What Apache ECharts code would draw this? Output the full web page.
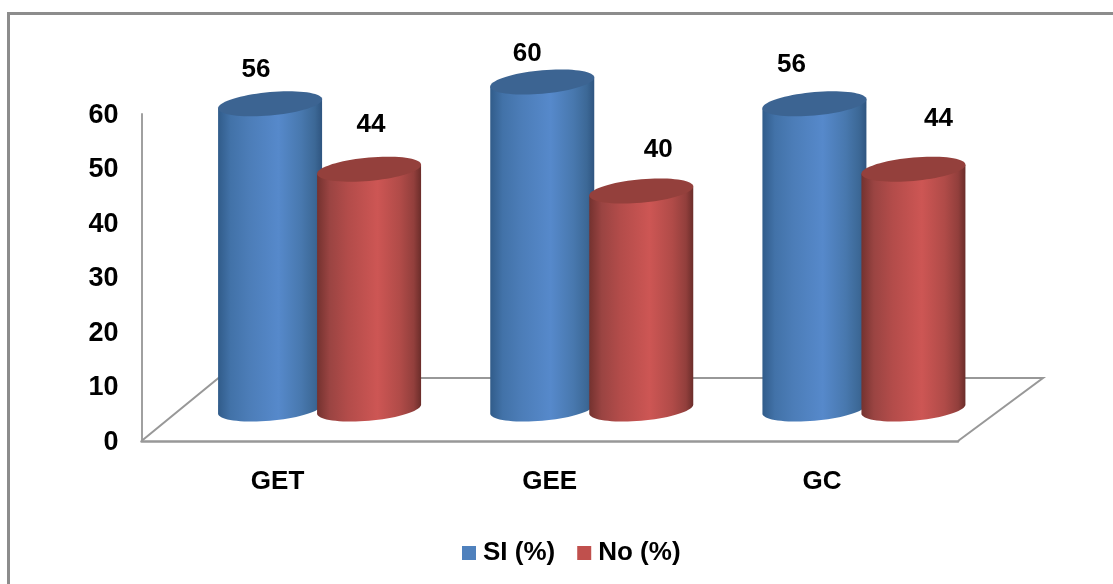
<!DOCTYPE html>
<html>
<head>
<meta charset="utf-8">
<style>html,body{margin:0;padding:0;background:#fff}#chart{width:1113px;height:584px}</style>
<script src="https://cdn.jsdelivr.net/npm/echarts@6/dist/echarts.min.js"></script>
</head>
<body>
<div id="chart"></div>
<script>
const categories = ['GET', 'GEE', 'GC'];
const siValues = [56, 60, 56];
const noValues = [44, 40, 44];
const yTicks = [0, 10, 20, 30, 40, 50, 60];

// Hand-placed value labels: offset from the centre of each cylinder's top.
const siLabelNudge = [[-14, -34], [-15, -28], [-23, -39]];
const noLabelNudge = [[2, -44], [17, -41], [25, -50]];

// Oblique projection of the floor and the cylinders standing on it.
const FLOOR_BACK = { dx: 77, dy: 63, rightDx: 85 };
const BASE_LIFT = 32;
const RX = 52, RY = 11.7, TILT = 4.5;
const BAR_SHIFT = { si: -7.5, no: 91.5 };
const FONT = '"Liberation Sans", Arial, sans-serif';

function shade(stops) {
  return {
    type: 'linear', x: 0, y: 0, x2: 1, y2: 0,
    colorStops: stops.map(s => ({ offset: s[0], color: s[1] }))
  };
}
const blueBody = shade([[0, '#315c8a'], [0.12, '#4272a8'], [0.3, '#4c7db8'], [0.58, '#5689cb'], [0.8, '#4878ae'], [0.93, '#3c6896'], [1, '#2f5580']]);
const redBody = shade([[0, '#74322f'], [0.12, '#9a4442'], [0.3, '#b34c4a'], [0.58, '#cd5654'], [0.8, '#b04b48'], [0.93, '#923f3c'], [1, '#6b2d2a']]);

function ellipsePoint(cx, cy, t) {
  return [cx + RX * Math.cos(t), cy - TILT * Math.cos(t) + RY * Math.sin(t)];
}

function cylinderRenderer(shift, bodyFill, capFill, nudges) {
  return function (params, api) {
    const idx = api.value(0);
    const val = api.value(1);
    const base = api.coord([idx, 0]);
    const top = api.coord([idx, val]);
    const cx = base[0] + shift;
    const baseY = base[1] - BASE_LIFT;
    const topY = top[1] - BASE_LIFT;

    const body = [];
    const cap = [];
    for (let i = 0; i <= 72; i++) {
      const a = Math.PI * 2 * i / 72;
      cap.push(ellipsePoint(cx, topY, a));
    }
    body.push(ellipsePoint(cx, topY, Math.PI));
    for (let i = 0; i <= 36; i++) {
      body.push(ellipsePoint(cx, baseY, Math.PI - Math.PI * i / 36));
    }
    body.push(ellipsePoint(cx, topY, 0));

    return {
      type: 'group',
      children: [
        { type: 'polygon', shape: { points: body }, style: { fill: bodyFill } },
        { type: 'polygon', shape: { points: cap }, style: { fill: capFill } },
        {
          type: 'text',
          style: {
            text: String(val),
            x: cx + nudges[idx][0],
            y: topY + nudges[idx][1],
            align: 'center',
            verticalAlign: 'middle',
            fill: '#000',
            font: 'bold 26px ' + FONT
          }
        }
      ]
    };
  };
}

function floorRenderer(params) {
  const c = params.coordSys;
  const bottom = c.y + c.height;
  return {
    type: 'polyline',
    shape: {
      points: [
        [c.x, bottom],
        [c.x + FLOOR_BACK.dx, bottom - FLOOR_BACK.dy],
        [c.x + c.width + FLOOR_BACK.rightDx, bottom - FLOOR_BACK.dy],
        [c.x + c.width, bottom]
      ]
    },
    style: { fill: 'none', stroke: '#989898', lineWidth: 2 }
  };
}

const chart = echarts.init(document.getElementById('chart'), null, { renderer: 'canvas' });
chart.setOption({
  animation: false,
  backgroundColor: '#fff',
  grid: { left: 141.5, top: 114, width: 816.5, height: 327, containLabel: false },
  graphic: [
    {
      type: 'polyline',
      shape: { points: [[8.5, 584], [8.5, 13.5], [1113, 13.5]] },
      style: { fill: 'none', stroke: '#8c8c8c', lineWidth: 3 },
      silent: true
    }
  ],
  xAxis: {
    type: 'category',
    data: categories,
    axisTick: { show: false },
    axisLine: { lineStyle: { color: '#989898', width: 2.5 } },
    axisLabel: { color: '#000', fontFamily: FONT, fontWeight: 'bold', fontSize: 26, margin: 28 }
  },
  yAxis: {
    type: 'value',
    min: yTicks[0],
    max: yTicks[yTicks.length - 1],
    interval: 10,
    splitLine: { show: false },
    axisTick: { show: false },
    axisLine: { show: true, lineStyle: { color: '#a0a0a0', width: 2 } },
    axisLabel: { color: '#000', fontFamily: FONT, fontWeight: 'bold', fontSize: 27, margin: 23, verticalAlign: 'top', lineHeight: 3 }
  },
  legend: {
    left: 462,
    top: 540,
    padding: 0,
    itemWidth: 14,
    itemHeight: 14,
    itemGap: 22,
    icon: 'rect',
    textStyle: { color: '#000', fontFamily: FONT, fontWeight: 'bold', fontSize: 26, padding: [3, 0, 0, 2] },
    data: ['SI (%)', 'No (%)']
  },
  series: [
    {
      type: 'custom',
      name: 'floor',
      silent: true,
      z: 1,
      renderItem: floorRenderer,
      data: [0]
    },
    {
      type: 'custom',
      name: 'SI (%)',
      z: 2,
      itemStyle: { color: '#4f81bd' },
      encode: { x: 0, y: 1 },
      renderItem: cylinderRenderer(BAR_SHIFT.si, blueBody, '#3c6492', siLabelNudge),
      data: siValues.map((v, i) => [i, v])
    },
    {
      type: 'custom',
      name: 'No (%)',
      z: 3,
      itemStyle: { color: '#c0504d' },
      encode: { x: 0, y: 1 },
      renderItem: cylinderRenderer(BAR_SHIFT.no, redBody, '#94403c', noLabelNudge),
      data: noValues.map((v, i) => [i, v])
    }
  ]
});
</script>
</body>
</html>
